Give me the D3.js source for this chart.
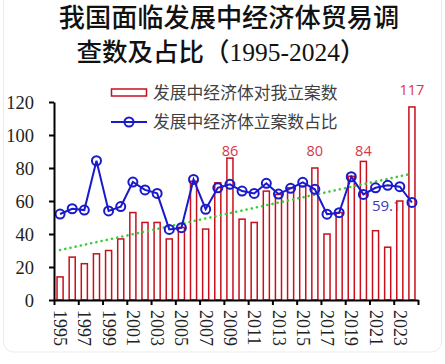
<!DOCTYPE html>
<html>
<head>
<meta charset="utf-8">
<script src="https://cdn.jsdelivr.net/npm/d3@7"></script>
<style>
  html, body { margin: 0; padding: 0; background: #ffffff; }
  svg { display: block; }
</style>
</head>
<body>
<svg id="chart" width="445" height="364"></svg>
<script>
// ---------------- data ----------------
const years = [1995,1996,1997,1998,1999,2000,2001,2002,2003,2004,2005,2006,2007,2008,2009,
               2010,2011,2012,2013,2014,2015,2016,2017,2018,2019,2020,2021,2022,2023,2024];
const caseCounts = [14,26,22,28,30,37,53,47,47,37,44,72,43,71,86,
                    49,47,66,64,68,69,80,40,53,75,84,42,32,60,117];
const caseShare = [52.1,55.3,54.5,84.4,54.0,56.6,71.5,66.7,64.6,42.8,43.8,73.1,55.0,68.0,70.1,
                   66.0,64.6,70.7,64.2,67.7,71.3,67.1,52.0,52.9,74.7,64.0,68.0,69.5,68.7,59.1];
const yTicks = [0,20,40,60,80,100,120];
const xTickLabels = [1995,1997,1999,2001,2003,2005,2007,2009,2011,2013,2015,2017,2019,2021,2023];
const barLabelYears = [2009,2016,2020,2024];
const shareLabelYears = [2024];
const titleLines = ["我国面临发展中经济体贸易调", "查数及占比（1995-2024）"];
const legendLabels = ["发展中经济体对我立案数", "发展中经济体立案数占比"];

// ---------------- layout ----------------
const svg = d3.select("#chart");
const pLeft = 54, pRight = 418, pTop = 102, pBottom = 300;
const labelRowY = 156; // labels that sit in the crowded band are aligned on one row

// card border
svg.append("rect").attr("x", 3.5).attr("y", -12).attr("width", 438).attr("height", 364)
  .attr("rx", 10).attr("fill", "none").attr("stroke", "#ebebeb").attr("stroke-width", 1);

const x = d3.scaleBand().domain(years).range([pLeft, pRight]).paddingInner(0.5).paddingOuter(0.25);
const xc = d => x(d) + x.bandwidth() / 2;
const y = d3.scaleLinear().domain([0, 120]).range([pBottom, pTop]);

// title
const title = svg.append("g").attr("font-family", "'Liberation Serif','Noto Sans CJK SC'")
  .attr("font-weight", 500).attr("fill", "#111").attr("text-anchor", "middle");
title.append("text").attr("x", 229).attr("y", 27).attr("font-size", 26.2).text(titleLines[0]);
title.append("text").attr("x", 221).attr("y", 61).attr("font-size", 25.5).text(titleLines[1]);

// legend
const lg = svg.append("g").attr("font-family", "'Noto Sans CJK SC'").attr("font-size", 16.8).attr("fill", "#404040");
lg.append("rect").attr("x", 111.5).attr("y", 89).attr("width", 35).attr("height", 7)
  .attr("fill", "#fff").attr("stroke", "#c8101c").attr("stroke-width", 1.5);
lg.append("text").attr("x", 153).attr("y", 99).text(legendLabels[0]);
lg.append("line").attr("x1", 111).attr("x2", 147).attr("y1", 122).attr("y2", 122)
  .attr("stroke", "#1a1acc").attr("stroke-width", 2);
lg.append("circle").attr("cx", 129).attr("cy", 122).attr("r", 4.5)
  .attr("fill", "none").attr("stroke", "#1a1acc").attr("stroke-width", 2);
lg.append("text").attr("x", 153).attr("y", 128).text(legendLabels[1]);

// share value label (drawn under the bars)
svg.append("g").selectAll("text").data(shareLabelYears).join("text")
  .attr("x", d => xc(d) - 40).attr("y", d => y(caseShare[years.indexOf(d)]) + 8.5)
  .attr("font-family", "'Open Sans','Noto Sans'").attr("font-size", 15).attr("fill", "#3a3ab8")
  .text(d => caseShare[years.indexOf(d)].toFixed(1));

// bars
svg.append("g").selectAll("rect").data(years).join("rect")
  .attr("x", d => x(d)).attr("width", x.bandwidth())
  .attr("y", (d, i) => y(caseCounts[i])).attr("height", (d, i) => pBottom - y(caseCounts[i]))
  .attr("fill", "#fff").attr("fill-opacity", 0.7).attr("stroke", "#c8101c").attr("stroke-width", 1.5);

// trendline (least-squares fit of bar values)
const n = years.length;
const mx = d3.mean(d3.range(n)), my = d3.mean(caseCounts);
const slope = d3.sum(d3.range(n), i => (i - mx) * (caseCounts[i] - my)) / d3.sum(d3.range(n), i => (i - mx) ** 2);
const icpt = my - slope * mx;
svg.append("line")
  .attr("x1", xc(years[0])).attr("y1", y(icpt))
  .attr("x2", xc(years[n - 1])).attr("y2", y(icpt + slope * (n - 1)))
  .attr("stroke", "#3ccc3c").attr("stroke-width", 2.6).attr("stroke-linecap", "round")
  .attr("stroke-dasharray", "0.1,5.2");

// share line
svg.append("path").datum(years)
  .attr("d", d3.line().x(d => xc(d)).y((d, i) => y(caseShare[i])))
  .attr("fill", "none").attr("stroke", "#1a1acc").attr("stroke-width", 2);
svg.append("g").selectAll("circle").data(years).join("circle")
  .attr("cx", d => xc(d)).attr("cy", (d, i) => y(caseShare[i])).attr("r", 4.5)
  .attr("fill", "none").attr("stroke", "#1a1acc").attr("stroke-width", 2);

// bar labels
svg.append("g").selectAll("text").data(barLabelYears).join("text")
  .attr("x", d => xc(d)).attr("text-anchor", "middle")
  .attr("y", d => {
    const v = caseCounts[years.indexOf(d)];
    const yy = y(v) - 11.5;
    return yy > labelRowY - 15 ? labelRowY : yy;
  })
  .attr("font-family", "'Open Sans','Noto Sans'").attr("font-size", 14.5).attr("fill", "#d43a48")
  .text(d => caseCounts[years.indexOf(d)]);

// y axis
const yAxis = svg.append("g").attr("transform", `translate(${pLeft},0)`)
  .call(d3.axisLeft(y).tickValues(yTicks).tickSize(5).tickPadding(15).tickSizeOuter(0));
yAxis.select(".domain").attr("stroke", "#000").attr("stroke-width", 2);
yAxis.selectAll(".tick line").attr("stroke", "#000").attr("stroke-width", 2);
yAxis.selectAll(".tick text").attr("font-family", "'Liberation Serif'").attr("font-size", 18.5)
  .attr("fill", "#222").attr("dy", "0.33em");

// x axis: line + tick marks every two categories
const xi = d3.scaleLinear().domain([0, n]).range([pLeft, pRight]);
const xAxis = svg.append("g").attr("transform", `translate(0,${pBottom})`)
  .call(d3.axisBottom(xi).tickValues(d3.range(0, n + 1, 2)).tickFormat("").tickSize(5).tickSizeOuter(0));
xAxis.select(".domain").attr("stroke", "#000").attr("stroke-width", 2);
xAxis.selectAll(".tick line").attr("stroke", "#000").attr("stroke-width", 2);

// x labels (rotated)
const xl = svg.append("g").attr("transform", `translate(0,${pBottom})`)
  .call(d3.axisBottom(x).tickValues(xTickLabels).tickSize(0).tickPadding(0));
xl.select(".domain").remove();
xl.selectAll(".tick text")
  .attr("transform", "rotate(90)").attr("x", 10).attr("y", 0).attr("dy", "0.33em")
  .attr("text-anchor", "start").attr("font-family", "'Liberation Serif'").attr("font-size", 18)
  .attr("fill", "#222");
</script>
</body>
</html>
